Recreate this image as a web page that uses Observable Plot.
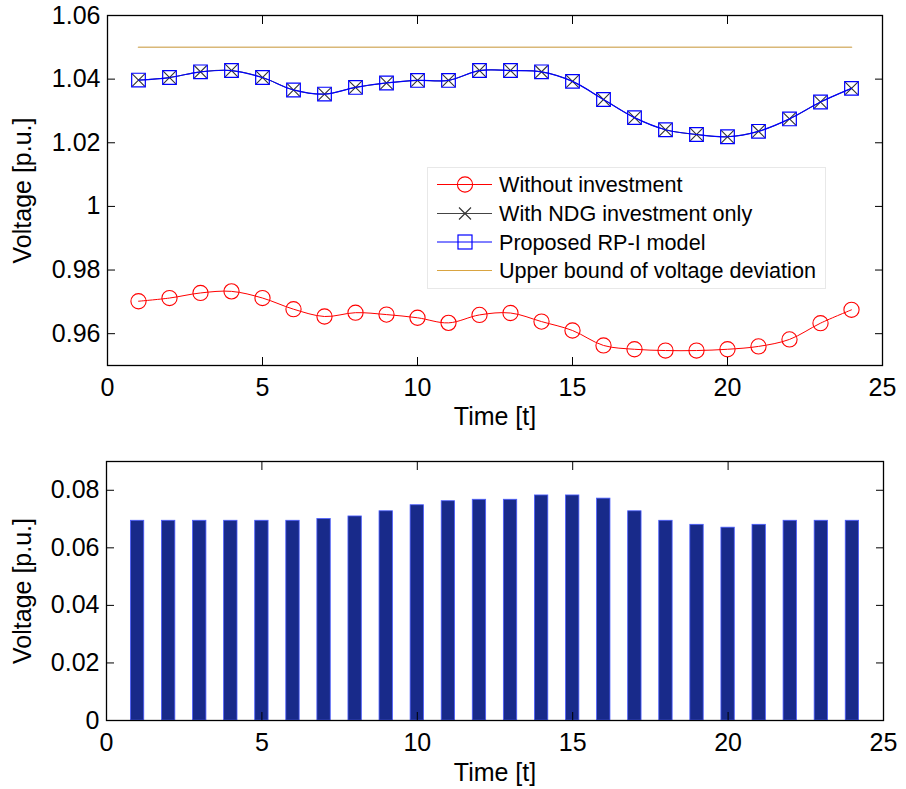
<!DOCTYPE html>
<html><head><meta charset="utf-8">
<script src="https://cdn.jsdelivr.net/npm/d3@7"></script>
<script src="https://cdn.jsdelivr.net/npm/@observablehq/plot@0.6"></script>
<style>
body{margin:0;background:#fff;}
#wrap{position:relative;width:906px;height:789px;overflow:hidden;font-family:"Liberation Sans",Arial,sans-serif;}
#topChart,#botChart{position:absolute;left:0;}
#topChart{top:0;}
#botChart{top:449px;}
#legend{position:absolute;left:0;top:0;}
</style></head><body>
<div id="wrap"><div id="topChart"></div><div id="botChart"></div><svg id="legend" width="906" height="450"></svg></div>
<script>
// ---- data ----
const hours = [1,2,3,4,5,6,7,8,9,10,11,12,13,14,15,16,17,18,19,20,21,22,23,24];
const withoutInvestment = [0.9702,0.9712,0.9728,0.9733,0.9712,0.9677,0.9654,0.9666,0.9660,0.9650,0.9634,0.9659,
                           0.9665,0.9638,0.9610,0.9563,0.9551,0.9547,0.9547,0.9551,0.9560,0.9582,0.9633,0.9675];
const ndgInvestmentOnly = [1.0397,1.0405,1.0423,1.0427,1.0405,1.0366,1.0353,1.0374,1.0388,1.0396,1.0396,1.0427,
                           1.0427,1.0423,1.0393,1.0336,1.0279,1.0241,1.0226,1.0219,1.0236,1.0275,1.0328,1.0371];
const proposedRPI = [1.0397,1.0405,1.0423,1.0427,1.0405,1.0366,1.0353,1.0374,1.0388,1.0396,1.0396,1.0427,
                     1.0427,1.0423,1.0393,1.0336,1.0279,1.0241,1.0226,1.0219,1.0236,1.0275,1.0328,1.0371];
const upperBound = [1.05,1.05,1.05,1.05,1.05,1.05,1.05,1.05,1.05,1.05,1.05,1.05,
                    1.05,1.05,1.05,1.05,1.05,1.05,1.05,1.05,1.05,1.05,1.05,1.05];
const voltageDeviation = [0.0694,0.0694,0.0694,0.0694,0.0694,0.0694,0.0700,0.0709,0.0727,0.0748,0.0762,0.0767,
                          0.0767,0.0782,0.0782,0.0771,0.0727,0.0694,0.0680,0.0670,0.0680,0.0694,0.0694,0.0694];
const xTicks = [0,5,10,15,20,25];
const yTicksTop = [0.96,0.98,1,1.02,1.04,1.06];
const yTicksBottom = [0,0.02,0.04,0.06,0.08];
const barWidth = 0.43;
const legendLabels = ["Without investment","With NDG investment only","Proposed RP-I model","Upper bound of voltage deviation"];

const fmt = d => String(+d.toFixed(2));
const font = {fontFamily:"Liberation Sans, Arial, sans-serif", fontSize:"25px", color:"#000", background:"transparent", overflow:"visible"};

const rows = (vals) => hours.map((t,i) => ({t, v: vals[i]}));
const redRows = rows(withoutInvestment), ndgRows = rows(ndgInvestmentOnly), rpiRows = rows(proposedRPI), ubRows = rows(upperBound);
const barRows = rows(voltageDeviation);

const frameAxes = (yt, label, lo) => [
  Plot.axisX(xTicks, {anchor:"bottom", tickSize:-8, tickPadding:21, tickFormat: fmt, label:"Time [t]", labelAnchor:"center", labelArrow:"none", labelOffset:lo.x}),
  Plot.axisX(xTicks, {anchor:"top", tickSize:-8, tickFormat: () => "", label:null}),
  Plot.axisY(yt, {anchor:"left", tickSize:-8, tickPadding:15, tickFormat: fmt, label, labelAnchor:"center", labelArrow:"none", labelOffset:lo.y}),
  Plot.axisY(yt, {anchor:"right", tickSize:-8, tickFormat: () => "", label:null}),
  Plot.frame({stroke:"#000", strokeWidth:1.3})
];

const topPlot = Plot.plot({
  width:906, height:450, marginLeft:107, marginRight:24, marginTop:15, marginBottom:85,
  style: font,
  x:{domain:[0,25]},
  y:{domain:[0.95,1.06]},
  marks:[
    Plot.line(ubRows, {x:"t", y:"v", stroke:"#d9b878", strokeWidth:1.6}),
    Plot.line(redRows, {x:"t", y:"v", stroke:"#ff0000", strokeWidth:1, curve:"catmull-rom"}),
    Plot.dot(redRows, {x:"t", y:"v", r:7.6, stroke:"#ff0000", strokeWidth:1.1, fill:"none"}),
    Plot.line(ndgRows, {x:"t", y:"v", stroke:"#444", strokeWidth:1, curve:"catmull-rom"}),
    Plot.dot(ndgRows, {x:"t", y:"v", symbol:"times", r:5.8, stroke:"#333", strokeWidth:1.1}),
    Plot.line(rpiRows, {x:"t", y:"v", stroke:"#0000ff", strokeWidth:1.2, curve:"catmull-rom"}),
    Plot.dot(rpiRows, {x:"t", y:"v", symbol:"square", r:7.7, stroke:"#0000ff", strokeWidth:1.2, fill:"none"}),
    ...frameAxes(yTicksTop, "Voltage [p.u.]", {x:59, y:94})
  ]
});
document.getElementById("topChart").append(topPlot);

const botPlot = Plot.plot({
  width:906, height:340, marginLeft:106, marginRight:23, marginTop:12, marginBottom:69,
  style: font,
  x:{domain:[0,25]},
  y:{domain:[0,0.09]},
  marks:[
    Plot.rectY(barRows, {x1: d => d.t - barWidth/2, x2: d => d.t + barWidth/2, y1:0, y2:"v", fill:"#182a8a", stroke:"#4a5cff", strokeWidth:0.8}),
    ...frameAxes(yTicksBottom, "Voltage [p.u.]", {x:60, y:93})
  ]
});
document.getElementById("botChart").append(botPlot);

// ---- legend (inside top panel) ----
const lg = d3.select("#legend");
const bx = 427, by = 167, bw = 398, bh = 121;
lg.append("rect").attr("x",bx+0.5).attr("y",by+0.5).attr("width",bw).attr("height",bh)
  .attr("fill","#fff").attr("stroke","#e8e8e8");
const rowY = [184.5, 213.5, 242, 270.5];
const styles = [
  {stroke:"#ff0000", sym:"circle"},
  {stroke:"#444", sym:"times"},
  {stroke:"#0000ff", sym:"square"},
  {stroke:"#d9a441", sym:null}
];
legendLabels.forEach((lab,i) => {
  const y = rowY[i], s = styles[i];
  lg.append("line").attr("x1",437).attr("x2",492).attr("y1",y).attr("y2",y).attr("stroke",s.stroke).attr("stroke-width",1);
  if (s.sym === "circle") lg.append("circle").attr("cx",465).attr("cy",y).attr("r",7.6).attr("fill","none").attr("stroke",s.stroke).attr("stroke-width",1.1);
  if (s.sym === "square") lg.append("rect").attr("x",458).attr("y",y-7).attr("width",14).attr("height",14).attr("fill","none").attr("stroke",s.stroke).attr("stroke-width",1.2);
  if (s.sym === "times") lg.append("path").attr("d",`M459,${y-6}L471,${y+6}M459,${y+6}L471,${y-6}`).attr("stroke","#333").attr("stroke-width",1.1);
  lg.append("text").attr("x",499).attr("y",y+7.8).attr("font-size","21.6px")
    .attr("font-family","Liberation Sans, Arial, sans-serif").attr("fill","#000").text(lab);
});
</script>
</body></html>
